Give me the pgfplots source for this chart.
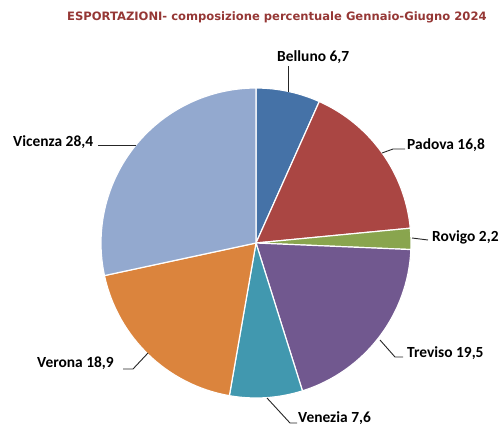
\documentclass[border=0pt]{standalone}
\usepackage{pgfplots}
\pgfplotsset{compat=1.18}
\usepackage{fontspec}
\setmainfont{Carlito}
\newfontfamily\titlefont{DejaVu Sans}
\definecolor{cBelluno}{HTML}{4572A7}
\definecolor{cPadova}{HTML}{AA4643}
\definecolor{cRovigo}{HTML}{89A54E}
\definecolor{cTreviso}{HTML}{71588F}
\definecolor{cVenezia}{HTML}{4198AF}
\definecolor{cVerona}{HTML}{DB843D}
\definecolor{cVicenza}{HTML}{93A9CF}
\definecolor{titlered}{HTML}{953735}
% sector: start cumulative, end cumulative (percent), colour; total = 100.1
\newcommand{\sector}[3]{%
  \fill[#3, draw=white, line width=1.2bp, line join=round]
    (axis cs:256,243) -- ++({90-#1*3.5964}:155bp)
    arc[start angle={90-#1*3.5964}, end angle={90-#2*3.5964}, radius=155bp] -- cycle;}
\begin{document}
\begin{tikzpicture}
\begin{axis}[x=1bp, y=1bp, y dir=reverse, xmin=0, xmax=500, ymin=0, ymax=426,
  hide axis, clip=false, scale only axis]
% values: Belluno 6.7, Padova 16.8, Rovigo 2.2, Treviso 19.5, Venezia 7.6, Verona 18.9, Vicenza 28.4
\sector{0}{6.7}{cBelluno}
\sector{6.7}{23.5}{cPadova}
\sector{23.5}{25.7}{cRovigo}
\sector{25.7}{45.2}{cTreviso}
\sector{45.2}{52.8}{cVenezia}
\sector{52.8}{71.7}{cVerona}
\sector{71.7}{100.1}{cVicenza}
% leader lines
\draw[black!85, line width=0.9bp] (axis cs:288,66) -- (axis cs:288,92);
\draw[black!85, line width=0.9bp] (axis cs:382,153) -- (axis cs:393,149) -- (axis cs:405,149);
\draw[black!85, line width=0.9bp] (axis cs:412,238) -- (axis cs:428,240);
\draw[black!85, line width=0.9bp] (axis cs:380,340) -- (axis cs:395,357) -- (axis cs:403,357);
\draw[black!85, line width=0.9bp] (axis cs:267,398) -- (axis cs:290,423) -- (axis cs:297,423);
\draw[black!85, line width=0.9bp] (axis cs:123,369) -- (axis cs:133,369) -- (axis cs:148,353);
\draw[black!85, line width=0.9bp] (axis cs:98,145) -- (axis cs:136,145);
% labels
\begin{scope}[every node/.style={font=\bfseries\fontsize{15.5}{17}\selectfont, inner sep=0pt, anchor=west}]
\node at (axis cs:277,57) {Belluno 6,7};
\node at (axis cs:407,145) {Padova 16,8};
\node at (axis cs:432,237) {Rovigo 2,2};
\node at (axis cs:407,353) {Treviso 19,5};
\node at (axis cs:298,418) {Venezia 7,6};
\node at (axis cs:37,363) {Verona 18,9};
\node at (axis cs:13,142) {Vicenza 28,4};
\end{scope}
\node[font=\titlefont\bfseries\fontsize{11.6}{13}\selectfont, text=titlered, inner sep=0pt, anchor=west] at (axis cs:67,17) {ESPORTAZIONI- composizione percentuale Gennaio-Giugno 2024};
\end{axis}
\pgfresetboundingbox
\useasboundingbox (0,0) rectangle (500bp,426bp);
\end{tikzpicture}
\end{document}
